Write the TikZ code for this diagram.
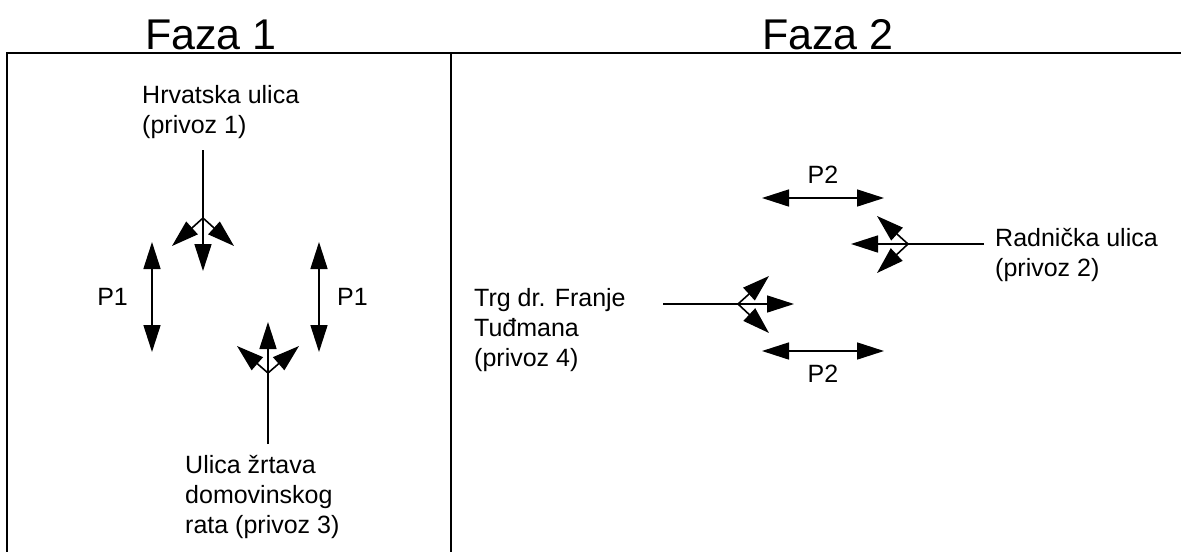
\documentclass[tikz,border=0pt]{standalone}
\usepackage{fontspec}
\setmainfont{Liberation Sans}
\usetikzlibrary{arrows.meta,positioning}

\tikzset{
	arr/.style={line width=1.6pt,-{Triangle[length=27pt,width=17pt]}},
	dbl/.style={line width=1.6pt,{Triangle[length=27pt,width=17pt]}-{Triangle[length=27pt,width=17pt]}},
	road/.style={line width=1.4pt},
	lbl/.style={inner sep=0pt,align=left,anchor=west,font=\fontsize{25}{30}\selectfont},
	title/.style={inner sep=0pt,font=\fontsize{43}{50}\selectfont}
}

\begin{document}
\begin{tikzpicture}[x=1pt,y=-1pt]
	\useasboundingbox (0,0) rectangle (1181,552);

	% frame
	\coordinate (tl) at (7,53);
	\coordinate (tr) at (1181,53);
	\coordinate (bl) at (7,552);
	\coordinate (mt) at (451,53);
	\coordinate (mb) at (451,552);
	\draw[line width=2.4pt] (tr) -- (tl) -- (bl);
	\draw[line width=2pt] (mt) -- (mb);

	\node[title] (f1) at (211,35) {Faza 1};
	\node[title] (f2) at (828,35) {Faza 2};

	% Faza 1
	\node[lbl] (p1) at (142,112) {Hrvatska ulica\\(privoz 1)};
	\coordinate (p1s) at (203,150);
	\coordinate (j1) at (203,218);
	\coordinate (j1d) at (203,271);
	\coordinate (j1l) at (172,246);
	\coordinate (j1r) at (234,246);
	\draw[road] (p1s) -- (j1);
	\draw[arr] (j1) -- (j1d);
	\draw[arr] (j1) -- (j1l);
	\draw[arr] (j1) -- (j1r);

	\coordinate (a1t) at (152,242);
	\coordinate (a1b) at (152,352);
	\draw[dbl] (a1t) --node[left=20pt]{\fontsize{25}{30}\selectfont P1} (a1b);
	\coordinate (a2t) at (319,242);
	\coordinate (a2b) at (319,352);
	\draw[dbl] (a2t) --node[right=14pt]{\fontsize{25}{30}\selectfont P1} (a2b);

	\node[lbl] (p3) at (185,497) {Ulica žrtava\\domovinskog\\rata (privoz 3)};
	\coordinate (p3s) at (268,444);
	\coordinate (j3) at (268,373);
	\coordinate (j3u) at (268,322);
	\coordinate (j3l) at (237,346);
	\coordinate (j3r) at (299,346);
	\draw[road] (p3s) -- (j3);
	\draw[arr] (j3) -- (j3u);
	\draw[arr] (j3) -- (j3l);
	\draw[arr] (j3) -- (j3r);

	% Faza 2
	\coordinate (b1l) at (762,198);
	\coordinate (b1r) at (884,198);
	\draw[dbl] (b1l) --node[above=10pt]{\fontsize{25}{30}\selectfont P2} (b1r);
	\coordinate (b2l) at (762,351);
	\coordinate (b2r) at (884,351);
	\draw[dbl] (b2l) --node[below=10pt]{\fontsize{25}{30}\selectfont P2} (b2r);

	\node[lbl] (p2) at (995,255) {Radnička ulica\\(privoz 2)};
	\coordinate (p2s) at (984,244);
	\coordinate (j2) at (908,244);
	\coordinate (j2l) at (851,244);
	\coordinate (j2u) at (877,216);
	\coordinate (j2d) at (877,273);
	\draw[road] (p2s) -- (j2);
	\draw[arr] (j2) -- (j2l);
	\draw[arr] (j2) -- (j2u);
	\draw[arr] (j2) -- (j2d);

	\node[lbl] (p4) at (474,330) {Trg dr. Franje\\Tuđmana\\(privoz 4)};
	\coordinate (p4s) at (663,304);
	\coordinate (j4) at (738,304);
	\coordinate (j4r) at (794,304);
	\coordinate (j4u) at (769,276);
	\coordinate (j4d) at (769,333);
	\draw[road] (p4s) -- (j4);
	\draw[arr] (j4) -- (j4r);
	\draw[arr] (j4) -- (j4u);
	\draw[arr] (j4) -- (j4d);

\end{tikzpicture}
\end{document}
